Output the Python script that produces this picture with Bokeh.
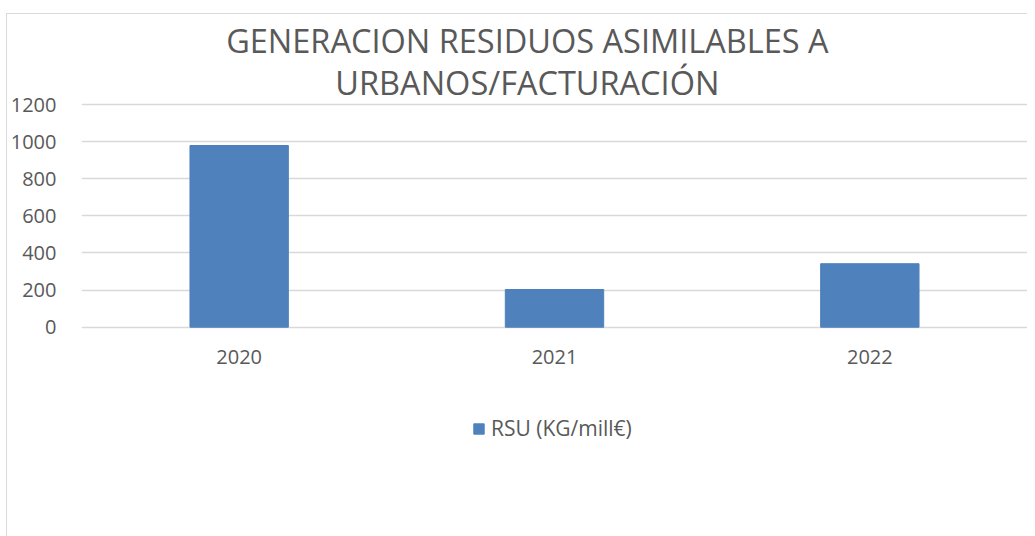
from bokeh.plotting import figure
from bokeh.models import FactorRange, Range1d, FixedTicker, Label, Legend, LegendItem
from bokeh.embed import file_html
from bokeh.resources import INLINE

years = ["2020", "2021", "2022"]
rsu = [979, 203, 342]
y_ticks = [0, 200, 400, 600, 800, 1000, 1200]
series_name = "RSU (KG/mill€)"
title_lines = ["GENERACION RESIDUOS ASIMILABLES A", "URBANOS/FACTURACIÓN"]

FONT = "Open Sans"
TXT = "#595959"
GRID = "#D9D9D9"
BAR = "#4F81BD"

# frame spans the whole chart height; y range bounds only position the 0..1200 axis
p = figure(frame_width=946, frame_height=522,
           x_range=FactorRange(factors=years, range_padding=0),
           y_range=Range1d(-1127.8, 1685), output_backend="svg", toolbar_location=None,
           min_border_left=70, min_border_right=0, min_border_top=0, min_border_bottom=0)
p.styles = {"margin-left": "6px", "margin-top": "13px",
            "border-left": "1px solid #D9D9D9", "border-top": "1px solid #D9D9D9"}
p.outline_line_color = None
p.background_fill_color = "white"
p.border_fill_color = "white"

r = p.vbar(x=years, top=rsu, width=0.312, fill_color=BAR, line_color=BAR)

p.yaxis.ticker = FixedTicker(ticks=y_ticks)
p.xaxis.fixed_location = 0
p.ygrid.grid_line_color = GRID
p.ygrid.grid_line_width = 1.3
p.xgrid.grid_line_color = None
for ax in (p.xaxis[0], p.yaxis[0]):
    ax.axis_line_color = None
    ax.major_tick_line_color = None
    ax.minor_tick_line_color = None
    ax.major_label_text_font = FONT
    ax.major_label_text_font_size = "20px"
    ax.major_label_text_color = TXT
p.yaxis.major_label_standoff = 19
p.xaxis.major_label_standoff = 17

for line, yy in zip(title_lines, [1545, 1319]):
    p.add_layout(Label(x=1.414, y=yy, text=line, text_align="center", text_baseline="alphabetic",
                       text_font=FONT, text_font_size="32.5px", text_color=TXT))

legend = Legend(items=[LegendItem(label=series_name, renderers=[r])], location=(391, 94),
                orientation="horizontal", border_line_color=None, background_fill_alpha=0,
                label_text_font=FONT, label_text_font_size="21px", label_text_color=TXT,
                glyph_width=13, glyph_height=13, label_standoff=6, padding=0, margin=0)
p.add_layout(legend)

open("out.html", "w").write(file_html(p, INLINE))
